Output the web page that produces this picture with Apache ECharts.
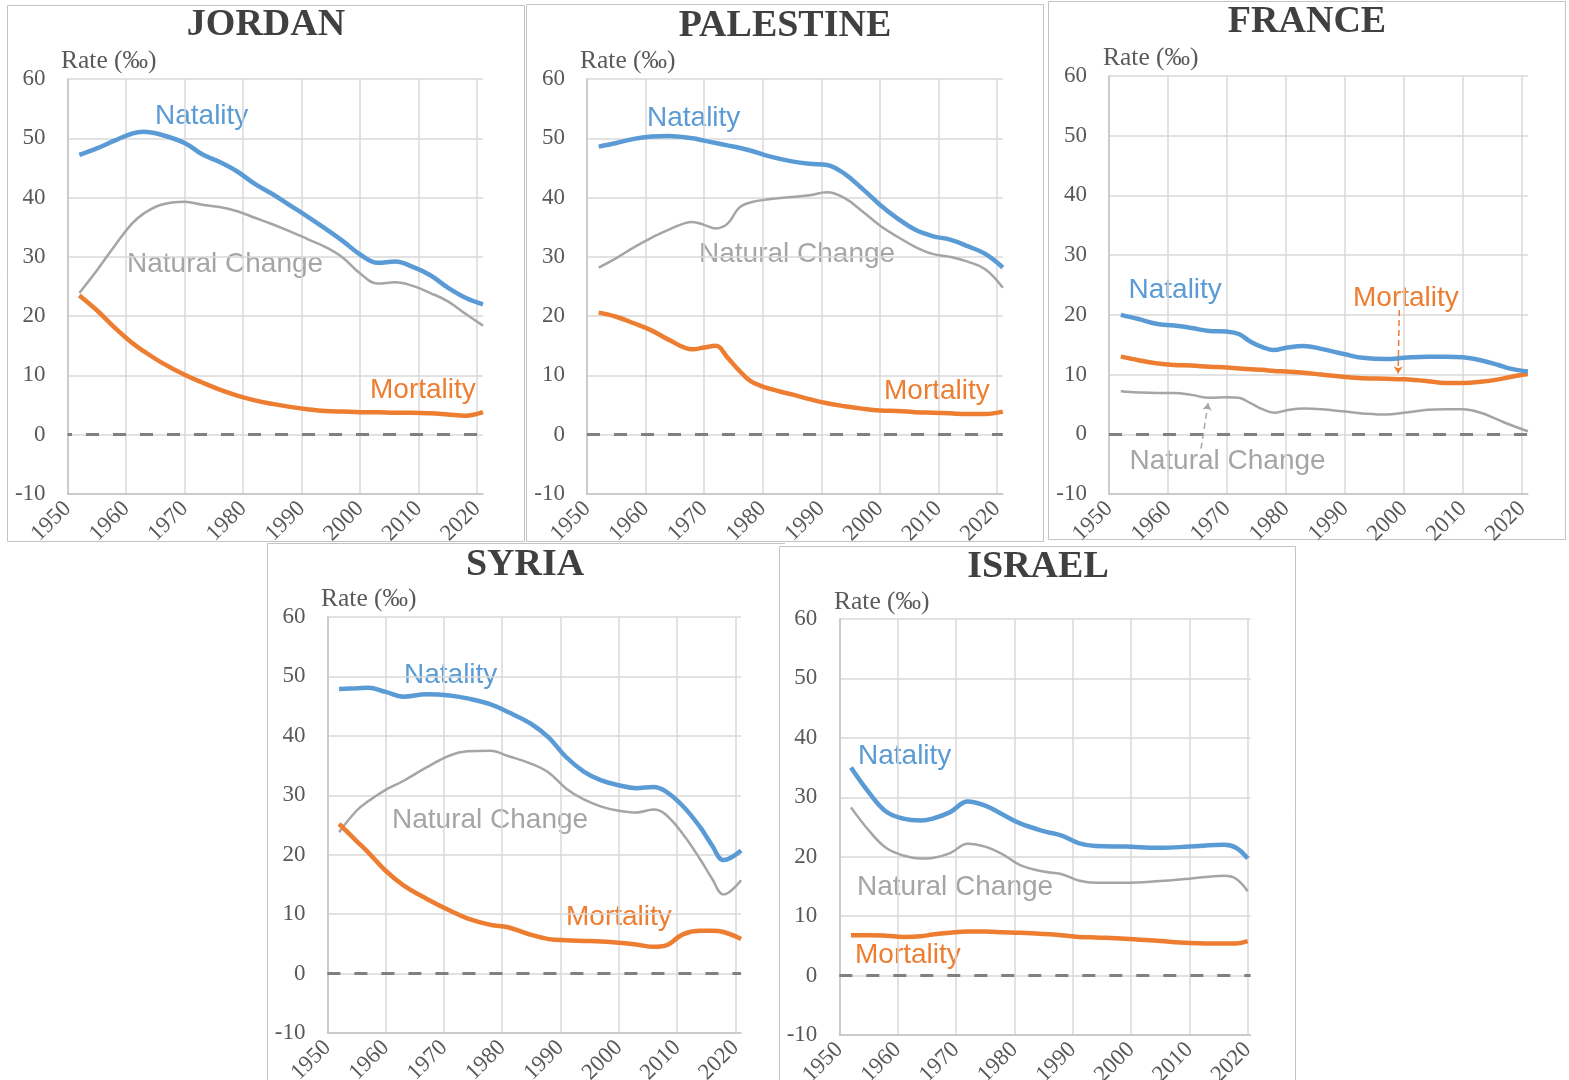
<!DOCTYPE html>
<html><head><meta charset="utf-8">
<script src="https://cdn.jsdelivr.net/npm/echarts@6/dist/echarts.min.js"></script>
<style>html,body{margin:0;padding:0;background:#fff}#c{width:1569px;height:1080px}</style>
</head><body><div id="c"></div>
<script>
// ---------------- DATA ----------------
const jordanYears = [1952,1955,1958,1961,1963,1966,1970,1973,1976,1979,1982,1985,1988,1991,1994,1997,2000,2003,2006,2009,2012,2015,2018,2021];
const jordanNatality = [47.2,48.3,49.6,50.8,51.1,50.6,49.2,47.3,46.0,44.4,42.3,40.6,38.7,36.8,34.8,32.7,30.4,29.0,29.2,28.3,26.9,24.8,23.1,22.0];
const jordanNatural = [23.9,27.7,31.8,35.6,37.3,38.8,39.3,38.8,38.4,37.7,36.6,35.5,34.3,33.0,31.7,29.9,27.2,25.5,25.7,25.1,23.9,22.5,20.4,18.4];
const jordanMortality = [23.5,21.0,18.1,15.5,14.1,12.2,10.1,8.8,7.6,6.6,5.8,5.2,4.7,4.3,4.0,3.9,3.8,3.8,3.7,3.7,3.6,3.4,3.2,3.8];

const palestineYears = [1952,1955,1958,1961,1964,1968,1970,1972,1974,1976,1978,1981,1985,1988,1991,1994,1997,2000,2003,2006,2009,2012,2015,2018,2021];
const palestineNatality = [48.6,49.2,49.9,50.3,50.4,50.0,49.6,49.2,48.8,48.4,47.9,47.0,46.1,45.7,45.5,44.0,41.5,38.8,36.5,34.6,33.5,32.9,31.8,30.5,28.2];
const palestineNatural = [28.2,29.8,31.6,33.2,34.6,35.9,35.4,34.8,35.6,38.3,39.2,39.7,40.1,40.4,40.9,39.9,37.7,35.3,33.4,31.7,30.5,30.0,29.2,27.9,24.8];
const palestineMortality = [20.6,19.9,18.8,17.6,16.0,14.4,14.7,15.0,13.0,10.8,9.0,7.8,6.8,6.0,5.3,4.8,4.4,4.1,4.0,3.8,3.7,3.6,3.5,3.5,3.9];

const franceYears = [1952,1955,1958,1961,1964,1967,1970,1972,1974,1976,1978,1980,1983,1986,1990,1993,1997,2000,2004,2007,2010,2013,2016,2018,2021];
const franceNatality = [20.0,19.3,18.5,18.2,17.8,17.3,17.2,16.8,15.5,14.6,14.1,14.5,14.8,14.3,13.4,12.8,12.6,12.8,13.0,13.0,12.9,12.4,11.6,11.0,10.5];
const franceNatural = [7.2,7.0,6.9,6.9,6.6,6.1,6.2,6.1,5.2,4.2,3.6,4.0,4.3,4.2,3.8,3.5,3.3,3.6,4.1,4.2,4.2,3.6,2.4,1.6,0.5];
const franceMortality = [13.0,12.4,11.9,11.6,11.5,11.3,11.2,11.0,10.9,10.8,10.6,10.5,10.3,10.0,9.6,9.4,9.3,9.2,8.9,8.6,8.6,8.8,9.2,9.6,10.1];

const syriaYears = [1952,1955,1957,1960,1963,1967,1971,1974,1978,1981,1985,1988,1991,1994,1997,2000,2003,2006,2008,2011,2014,2016,2018,2021];
const syriaNatality = [47.9,48.0,48.1,47.4,46.6,47.0,46.8,46.3,45.3,44.0,42.0,39.7,36.4,34.0,32.5,31.7,31.2,31.4,30.7,28.2,24.6,21.6,19.1,20.7];
const syriaNatural = [23.8,27.4,29.0,30.9,32.4,34.7,36.7,37.4,37.5,36.6,35.3,33.8,31.1,29.3,28.1,27.4,27.1,27.6,26.8,23.5,19.2,16.0,13.3,15.7];
const syriaMortality = [25.2,22.3,20.4,17.3,14.9,12.6,10.6,9.3,8.2,7.8,6.5,5.8,5.6,5.5,5.4,5.2,4.9,4.5,4.7,6.6,7.2,7.2,7.0,5.8];

const israelYears = [1952,1955,1958,1961,1964,1966,1969,1972,1975,1978,1981,1985,1988,1991,1994,1999,2005,2010,2016,2018,2020];
const israelNatality = [35.0,30.9,27.6,26.4,26.1,26.4,27.5,29.3,28.6,27.1,25.6,24.3,23.6,22.3,21.8,21.7,21.5,21.7,22.0,21.5,19.7];
const israelNatural = [28.3,24.5,21.5,20.2,19.7,19.8,20.6,22.2,21.7,20.4,18.6,17.5,17.1,16.0,15.6,15.6,15.9,16.3,16.8,16.3,14.2];
const israelMortality = [6.8,6.8,6.7,6.5,6.6,6.9,7.2,7.4,7.4,7.3,7.2,7.0,6.8,6.5,6.4,6.2,5.8,5.5,5.4,5.4,5.8];

const countryNames = ['JORDAN','PALESTINE','FRANCE','SYRIA','ISRAEL'];
const seriesNames = ['Natality','Natural Change','Mortality'];
const yTicks = {min:-10, max:60, step:10};
const xTicks = {min:1950, step:10};
const yAxisTitle = 'Rate (‰)';
// France annotation arrows [fromYear, fromValue] -> [toYear, toValue]
const franceArrows = [
  {from:[1999.2, 20.8], to:[1999.0, 10.2], color:'#ed7d31'},
  {from:[1965.6, -2.4], to:[1966.8, 5.2], color:'#a5a5a5'}
];

// ---------------- LAYOUT / STYLE ----------------
const COL = {nat:'#5b9bd5', mort:'#ed7d31', chg:'#a5a5a5', grid:'#d9d9d9', axis:'#c4c4c4', tick:'#595959', title:'#404040', zero:'#808080', box:'#c3c3c3'};
const layout = [
  {grid:{left:67.6, top:79, width:415.4, height:415}, xMax:2021, dashOffset:8.6, title:[266,25], rate:[61,61],
   lab:{nat:[155,116.5], chg:[127,264], mort:[370,390]}},
  {grid:{left:587, top:79, width:415.8, height:415}, xMax:2021, dashOffset:0, title:[785,26], rate:[580,61],
   lab:{nat:[647,118.5], chg:[699,254.5], mort:[884,391]}},
  {grid:{left:1109, top:76, width:418.9, height:418}, xMax:2021, dashOffset:0, title:[1307,22.5], rate:[1103,58],
   lab:{nat:[1128.5,290.5], chg:[1129.5,461.5], mort:[1353,298]}},
  {grid:{left:327.4, top:617, width:413.7, height:416}, xMax:2021, dashOffset:0, title:[525,565], rate:[321,599.5],
   lab:{nat:[404,675], chg:[392,820], mort:[566,917]}},
  {grid:{left:839.3, top:619, width:411.3, height:416}, xMax:2020.5, dashOffset:0, title:[1038,567.5], rate:[834,602],
   lab:{nat:[858,756], chg:[857,887], mort:[855,955]}}
];
const data = [
  [jordanYears, jordanNatality, jordanNatural, jordanMortality],
  [palestineYears, palestineNatality, palestineNatural, palestineMortality],
  [franceYears, franceNatality, franceNatural, franceMortality],
  [syriaYears, syriaNatality, syriaNatural, syriaMortality],
  [israelYears, israelNatality, israelNatural, israelMortality]
];

const SERIF = '"Liberation Serif","Times New Roman",serif';
const SANS = '"Liberation Sans",Arial,sans-serif';

const grids = [], xAxes = [], yAxes = [], series = [], graphics = [];

// panel borders
graphics.push({type:'rect', z:-10, shape:{x:7.5, y:5.5, width:517, height:536}, style:{fill:'none', stroke:COL.box, lineWidth:1}});
graphics.push({type:'rect', z:-10, shape:{x:526.5, y:4.5, width:517, height:537}, style:{fill:'none', stroke:COL.box, lineWidth:1}});
graphics.push({type:'rect', z:-10, shape:{x:1048.5, y:1.5, width:517, height:538}, style:{fill:'none', stroke:COL.box, lineWidth:1}});
graphics.push({type:'polyline', z:-10, shape:{points:[[267.5,1090],[267.5,543.5],[785,543.5]]}, style:{fill:'none', stroke:COL.box, lineWidth:1}});
graphics.push({type:'rect', z:-10, shape:{x:779.5, y:546.5, width:516, height:540}, style:{fill:'none', stroke:COL.box, lineWidth:1}});

layout.forEach((L, i) => {
  const [yrs, nat, chg, mort] = data[i];
  grids.push(Object.assign({containLabel:false, outerBoundsMode:'none'}, L.grid));
  xAxes.push({
    type:'value', gridIndex:i, min:xTicks.min, max:L.xMax, interval:xTicks.step,
    axisLine:{show:true, onZero:false, lineStyle:{color:COL.axis, width:1.5}},
    axisTick:{show:false},
    splitLine:{show:true, showMaxLine:false, lineStyle:{color:COL.grid, width:1.5}},
    axisLabel:{rotate:45, margin:11, color:COL.tick, fontFamily:SERIF, fontSize:23,
      showMaxLabel:false, formatter:v => (v % 10 === 0 ? String(v) : '')}
  });
  yAxes.push({
    type:'value', gridIndex:i, min:yTicks.min, max:yTicks.max, interval:yTicks.step,
    axisLine:{show:true, lineStyle:{color:COL.axis, width:1.5}},
    axisTick:{show:false},
    splitLine:{show:true, lineStyle:{color:COL.grid, width:1.5}},
    axisLabel:{margin:22, color:COL.tick, fontFamily:SERIF, fontSize:23}
  });
  const mk = (vals) => yrs.map((y, k) => [y, vals[k]]);
  const chgSeries = {
    name:seriesNames[1], type:'line', xAxisIndex:i, yAxisIndex:i, data:mk(chg), smooth:0.4,
    symbol:'none', z:3, lineStyle:{color:COL.chg, width:2.5},
    markLine:{silent:true, symbol:'none', animation:false, label:{show:false},
      lineStyle:{color:COL.zero, width:3, type:[13,14], dashOffset:L.dashOffset},
      data:[[{coord:[xTicks.min, 0]}, {coord:[L.xMax, 0]}]]}
  };
  const mortSeries = {
    name:seriesNames[2], type:'line', xAxisIndex:i, yAxisIndex:i, data:mk(mort), smooth:0.4,
    symbol:'none', z:4, lineStyle:{color:COL.mort, width:4.5}
  };
  const natSeries = {
    name:seriesNames[0], type:'line', xAxisIndex:i, yAxisIndex:i, data:mk(nat), smooth:0.4,
    symbol:'none', z:5, lineStyle:{color:COL.nat, width:4.5}
  };
  if (countryNames[i] === 'FRANCE') {
    natSeries.markLine = {silent:true, animation:false, label:{show:false}, symbol:['none','arrow'], symbolSize:7,
      data: franceArrows.map(a => [
        {coord:a.from, lineStyle:{color:a.color, width:1.5, type:[6,4]}, itemStyle:{color:a.color}},
        {coord:a.to}
      ])};
  }
  series.push(chgSeries, mortSeries, natSeries);

  // texts
  graphics.push({type:'text', x:L.title[0], y:L.title[1], style:{text:countryNames[i], fill:COL.title,
    font:'bold 38px ' + SERIF, align:'center', verticalAlign:'middle'}});
  graphics.push({type:'text', x:L.rate[0], y:L.rate[1], style:{text:yAxisTitle, fill:COL.tick,
    font:'25.5px ' + SERIF, align:'left', verticalAlign:'middle'}});
  graphics.push({type:'text', x:L.lab.nat[0], y:L.lab.nat[1], style:{text:seriesNames[0], fill:COL.nat,
    font:'28px ' + SANS, align:'left', verticalAlign:'middle'}});
  graphics.push({type:'text', x:L.lab.chg[0], y:L.lab.chg[1], style:{text:seriesNames[1], fill:COL.chg,
    font:'28px ' + SANS, align:'left', verticalAlign:'middle'}});
  graphics.push({type:'text', x:L.lab.mort[0], y:L.lab.mort[1], style:{text:seriesNames[2], fill:COL.mort,
    font:'28px ' + SANS, align:'left', verticalAlign:'middle'}});
});

const chart = echarts.init(document.getElementById('c'), null, {renderer:'canvas'});
chart.setOption({
  animation:false,
  backgroundColor:'#ffffff',
  grid:grids, xAxis:xAxes, yAxis:yAxes, series:series,
  graphic:{elements:graphics}
});
</script></body></html>
